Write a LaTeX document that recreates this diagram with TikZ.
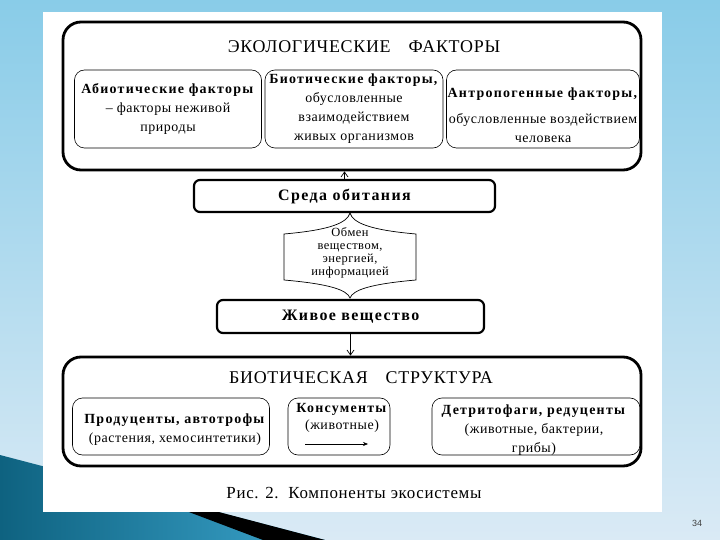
\documentclass[tikz,border=0pt]{standalone}
\usepackage{fontspec}
\setmainfont{Liberation Serif}[LetterSpace=4, BoldFeatures={LetterSpace=9}]
\newfontfamily\pagefont{Liberation Sans}
\usetikzlibrary{arrows.meta,positioning,shapes}
\definecolor{skytop}{RGB}{137,204,232}
\definecolor{skybot}{RGB}{218,234,245}
\definecolor{tealdark}{RGB}{14,98,128}
\definecolor{teallight}{RGB}{60,165,205}

\begin{document}
\begin{tikzpicture}[x=1bp, y=-1bp,
    outer/.style={draw, line width=2.8bp, rounded corners=18bp, minimum width=578bp, inner sep=0pt},
    inn/.style={draw, line width=0.6bp, rounded corners=10bp, inner sep=0pt, align=center,
        font=\fontsize{14}{19}\selectfont},
    txt/.style={align=center, inner sep=0pt, font=\fontsize{14}{19}\selectfont},
    mid/.style={draw, line width=2.2bp, rounded corners=6bp, inner sep=0pt,
        font=\fontsize{16}{18}\selectfont\bfseries},
    ttl/.style={font=\fontsize{18}{20}\selectfont},
    arr/.style={-{Straight Barb[length=5bp, width=7bp]}, line width=0.7bp}
]
% slide background
\useasboundingbox (0,0) rectangle (720,540);
\shade[top color=skytop, bottom color=skybot] (0,0) rectangle (720,540);
\shade[left color=tealdark, right color=teallight] (0,455) -- (325,540) -- (0,540) -- cycle;
\fill[black] (120,486) -- (325,540) -- (263,540) -- cycle;
\fill[white] (43,12) rectangle (662,512);
\node[font=\pagefont\fontsize{9}{10}\selectfont, text=black!75] (page) at (697,523) {34};

% ecological factors
\node[outer, minimum height=148bp] (Eco) at (352,96) {};
\node[ttl] (EcoT) at (364,47) {ЭКОЛОГИЧЕСКИЕ\quad ФАКТОРЫ};
\node[inn, minimum width=187bp, minimum height=78bp] (Abio) at (168,109)
    {\textbf{Абиотические факторы}\\ -- факторы неживой\\ природы};
\node[inn, minimum width=178bp, minimum height=78bp] (Bio) at (354,109)
    {\textbf{Биотические факторы,}\\ обусловленные\\ взаимодействием\\ живых организмов};
\node[inn, minimum width=193bp, minimum height=78bp] (Antro) at (543,109) {};
\node[txt] (AntroT) at (543,115)
    {\textbf{Антропогенные факторы,}\\[7bp] обусловленные воздействием\\ человека};

% habitat and living matter
\node[mid, minimum width=301bp, minimum height=32bp] (Sreda) at (344.5,196) {Среда обитания};
\node[mid, minimum width=267bp, minimum height=33bp] (Zhivoe) at (350.5,316.5) {Живое вещество};
\draw[line width=0.7bp] (284,234) .. controls (330,230) and (347,223) .. (350,213)
    .. controls (353,223) and (370,230) .. (416,234) -- (416,280)
    .. controls (370,284) and (353,290) .. (350,298)
    .. controls (347,290) and (330,284) .. (284,280) -- cycle;
\node[align=center, font=\fontsize{12.5}{13}\selectfont] (Obmen) at (350,253)
    {Обмен\\ веществом,\\ энергией,\\ информацией};

% biotic structure
\node[outer, minimum height=109bp] (Struct) at (352,411.5) {};
\node[ttl] (StructT) at (361,378) {БИОТИЧЕСКАЯ\quad СТРУКТУРА};
\node[inn, minimum width=197bp, minimum height=57bp] (Prod) at (171,426.5) {};
\node[txt] (ProdT) at (175,430)
    {\textbf{Продуценты, автотрофы}\\ (растения, хемосинтетики)};
\node[inn, minimum width=102bp, minimum height=57bp] (Kons) at (339,426.5) {};
\node[txt, font=\fontsize{14}{17}\selectfont] (KonsT) at (342,418)
    {\textbf{Консументы}\\ (животные)};
\coordinate (KonsA) at (305,444);
\coordinate (KonsB) at (368,444);
\node[inn, minimum width=208bp, minimum height=57bp] (Detr) at (536,426.5) {};
\node[txt] (DetrT) at (534,430)
    {\textbf{Детритофаги, редуценты}\\ (животные, бактерии,\\ грибы)};

% connections
\draw[arr] (Sreda.north) -- (Sreda.north |- Eco.south);
\draw[arr] (Zhivoe.south) -- (Zhivoe.south |- Struct.north);
\draw[-{Stealth[length=5bp, width=4bp]}, line width=0.6bp] (KonsA) -- (KonsB);

\node[font=\fontsize{17}{19}\selectfont] (Cap) at (354,493) {Рис. 2.\ \ Компоненты экосистемы};
\end{tikzpicture}
\end{document}
